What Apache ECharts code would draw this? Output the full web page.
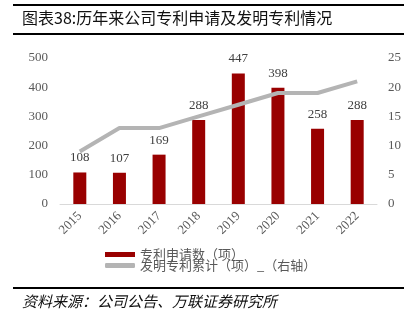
<!DOCTYPE html>
<html><head><meta charset="utf-8">
<script src="https://cdn.jsdelivr.net/npm/echarts@6/dist/echarts.min.js"></script>
<style>html,body{margin:0;padding:0;background:#fff}#c{width:404px;height:325px}</style>
</head><body><div id="c"></div>
<script>
var categories = ['2015','2016','2017','2018','2019','2020','2021','2022'];
var applications = [108,107,169,288,447,398,258,288];
var cumulativeInventions = [9,13,13,15,17,19,19,21];
var leftTicks = [0,100,200,300,400,500];
var rightTicks = [0,5,10,15,20,25];
var barName = '专利申请数（项）';
var lineName = '发明专利累计（项）_（右轴）';
var titleText = '图表38:历年来公司专利申请及发明专利情况';
var sourceText = '资料来源：公司公告、万联证券研究所';

var chart = echarts.init(document.getElementById('c'), null, {renderer:'canvas'});
var serif = '"Liberation Serif","Times New Roman",serif';
var cjk = '"Noto Sans CJK SC",sans-serif';
chart.setOption({
  animation:false,
  backgroundColor:'#fff',
  grid:{left:60,right:27,top:58,bottom:121,containLabel:false},
  graphic:[
    {type:'rect',shape:{x:13,y:4,width:391,height:2},style:{fill:'#000'}},
    {type:'text',left:22,top:10,style:{text:titleText,font:'16px '+cjk,fill:'#111'}},
    {type:'rect',shape:{x:13,y:33,width:391,height:2},style:{fill:'#000'}},
    {type:'rect',shape:{x:13,y:287,width:391,height:2},style:{fill:'#000'}},
    {type:'text',left:22,top:294,style:{text:sourceText,font:'italic 15px '+cjk,fill:'#111'}}
  ],
  legend:{
    orient:'vertical',left:100,top:243,itemWidth:30,itemHeight:5,itemGap:-2,
    textStyle:{fontFamily:cjk,fontSize:13,color:'#595959'},
    data:[{name:barName,icon:'rect'},{name:lineName,icon:'roundRect'}]
  },
  xAxis:{type:'category',data:categories,
    axisLine:{lineStyle:{color:'#d9d9d9',width:1}},axisTick:{show:false},
    axisLabel:{rotate:45,margin:10,fontFamily:serif,fontSize:13,color:'#595959'}},
  yAxis:[
    {type:'value',min:0,max:500,interval:100,splitLine:{show:false},axisLine:{show:false},axisTick:{show:false},
     axisLabel:{margin:12,fontFamily:serif,fontSize:13,color:'#595959',
       formatter:function(v){return leftTicks.indexOf(v)>=0?String(v):'';}}},
    {type:'value',min:0,max:25,interval:5,splitLine:{show:false},axisLine:{show:false},axisTick:{show:false},
     axisLabel:{margin:11,fontFamily:serif,fontSize:13,color:'#595959',
       formatter:function(v){return rightTicks.indexOf(v)>=0?String(v):'';}}}
  ],
  series:[
    {name:barName,type:'bar',data:applications,barWidth:13,yAxisIndex:0,
     itemStyle:{color:'#990000'},
     label:{show:true,position:'top',distance:8,fontFamily:serif,fontSize:13,color:'#404040'}},
    {name:lineName,type:'line',data:cumulativeInventions,yAxisIndex:1,symbol:'none',
     lineStyle:{color:'#b4b4b4',width:4},itemStyle:{color:'#b4b4b4'},z:3}
  ]
});
</script></body></html>
